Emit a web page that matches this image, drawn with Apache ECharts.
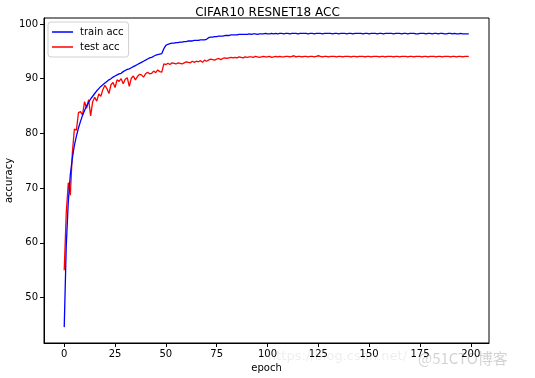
<!DOCTYPE html>
<html>
<head>
<meta charset="utf-8">
<script src="https://cdn.jsdelivr.net/npm/echarts@6/dist/echarts.min.js"></script>
<style>html,body{margin:0;padding:0;background:#fff}#c{width:535px;height:378px}</style>
</head>
<body>
<div id="c"></div>
<script>
const chartTitle = 'CIFAR10 RESNET18 ACC';
const seriesNames = ['train acc', 'test acc'];
const xTicks = [0, 25, 50, 75, 100, 125, 150, 175, 200];
const yTicks = [50, 60, 70, 80, 90, 100];
const epochs = Array.from({length: 200}, (_, i) => i);

const trainAcc = [
44.6,59.5,67.5,72.5,75.5,77.8,79.5,81.0,82.2,83.3,
84.2,85.0,85.7,86.3,86.8,87.3,87.8,88.2,88.6,88.9,
89.2,89.5,89.8,90.0,90.3,90.5,90.7,90.9,91.0,91.3,
91.5,91.7,91.8,92.0,92.2,92.4,92.6,92.8,93.0,93.2,
93.4,93.6,93.8,93.9,94.1,94.3,94.4,94.5,94.6,95.5,
96.1,96.3,96.4,96.5,96.5,96.6,96.6,96.7,96.7,96.8,
96.8,96.9,96.9,96.9,97.0,97.0,97.0,97.1,97.1,97.1,
97.2,97.5,97.6,97.6,97.7,97.7,97.8,97.8,97.8,97.9,
97.9,97.9,98.0,98.0,98.0,98.0,98.1,98.1,98.1,98.1,
98.1,98.2,98.1,98.2,98.2,98.1,98.2,98.2,98.2,98.3,
98.2,98.2,98.3,98.2,98.3,98.2,98.3,98.3,98.2,98.3,
98.3,98.2,98.3,98.3,98.3,98.2,98.3,98.3,98.3,98.3,
98.2,98.3,98.3,98.2,98.3,98.3,98.3,98.2,98.3,98.3,
98.3,98.3,98.2,98.3,98.3,98.2,98.3,98.3,98.3,98.2,
98.3,98.3,98.2,98.3,98.3,98.3,98.3,98.2,98.3,98.3,
98.2,98.3,98.3,98.3,98.2,98.3,98.3,98.2,98.3,98.3,
98.3,98.3,98.2,98.3,98.3,98.3,98.2,98.3,98.3,98.2,
98.3,98.3,98.3,98.2,98.2,98.3,98.3,98.3,98.2,98.3,
98.3,98.2,98.3,98.3,98.2,98.3,98.3,98.2,98.2,98.3,
98.3,98.2,98.3,98.2,98.2,98.3,98.2,98.2,98.2,98.2
];

const testAcc = [
55.0,65.5,71.0,68.7,76.5,80.8,80.6,83.8,84.0,83.4,
85.8,84.6,86.2,83.2,85.8,86.6,85.9,87.2,86.8,88.0,
88.8,88.2,87.3,88.9,89.3,88.4,89.8,89.5,90.0,89.1,
89.9,90.2,88.6,90.1,90.5,89.8,90.4,90.8,90.7,90.3,
90.9,91.2,90.9,91.0,91.4,91.1,91.6,91.3,91.2,92.7,
92.6,92.8,92.6,92.9,92.8,92.7,92.9,92.8,92.7,92.9,
93.1,93.0,92.9,93.2,93.0,93.2,93.1,93.3,93.0,93.4,
93.2,93.4,93.6,93.5,93.4,93.6,93.7,93.5,93.7,93.8,
93.7,93.8,93.9,93.8,93.9,93.8,94.0,93.9,93.8,94.0,
93.9,94.0,94.0,93.9,94.1,94.0,93.9,94.0,94.1,94.0,
94.0,94.1,93.9,94.0,94.1,94.0,94.1,94.0,94.0,94.1,
94.1,94.0,94.1,94.2,94.0,94.1,94.1,94.0,94.1,94.1,
94.0,94.1,94.1,94.0,94.1,94.2,94.1,94.0,94.1,94.1,
94.0,94.1,94.1,94.1,94.0,94.1,94.1,94.0,94.1,94.1,
94.1,94.0,94.1,94.1,94.0,94.1,94.1,94.1,94.0,94.1,
94.1,94.0,94.1,94.1,94.1,94.0,94.1,94.1,94.0,94.1,
94.1,94.1,94.0,94.1,94.1,94.0,94.1,94.1,94.1,94.0,
94.1,94.1,94.0,94.1,94.1,94.1,94.0,94.1,94.1,94.0,
94.1,94.1,94.1,94.0,94.1,94.1,94.0,94.1,94.1,94.1,
94.0,94.1,94.1,94.0,94.1,94.1,94.0,94.1,94.1,94.1
];

const FONT = 'DejaVu Sans';
const chart = echarts.init(document.getElementById('c'), null, {renderer: 'canvas'});
const pairs = arr => epochs.map((e, i) => [e, arr[i]]);

chart.setOption({
  animation: false,
  backgroundColor: '#fff',
  textStyle: {fontFamily: FONT},
  title: {
    text: chartTitle, left: 'center', top: 2,
    textStyle: {fontFamily: FONT, fontSize: 12, fontWeight: 'normal', color: '#000'}
  },
  legend: {
    orient: 'vertical', left: 48, top: 22,
    data: seriesNames,
    icon: 'rect', itemWidth: 21, itemHeight: 1.5, itemGap: 5,
    padding: [5, 5, 5, 4],
    borderColor: '#d0d0d0', borderWidth: 1, borderRadius: 3,
    backgroundColor: 'rgba(255,255,255,0.8)',
    textStyle: {fontFamily: FONT, fontSize: 10, color: '#000', padding: [0, 0, 0, 2]}
  },
  grid: {left: 44, top: 18, right: 46, bottom: 35, outerBoundsMode: 'none', containLabel: false,
         show: true, borderColor: '#000', borderWidth: 1, backgroundColor: '#fff'},
  xAxis: {
    type: 'value', min: -9.95, max: 208.95,
    name: 'epoch', nameLocation: 'middle', nameGap: 20, nameMoveOverlap: false,
    nameTextStyle: {fontFamily: FONT, fontSize: 10, color: '#000'},
    axisLine: {show: true, onZero: false, lineStyle: {color: '#000', width: 1}},
    axisTick: {show: true, inside: false, length: 4, lineStyle: {color: '#000'}, customValues: xTicks},
    axisLabel: {fontFamily: FONT, fontSize: 10, color: '#000', margin: 6, customValues: xTicks},
    splitLine: {show: false}
  },
  yAxis: {
    type: 'value', min: 41.7, max: 101.1,
    name: 'accuracy', nameLocation: 'middle', nameGap: 30, nameMoveOverlap: false,
    nameTextStyle: {fontFamily: FONT, fontSize: 10, color: '#000'},
    axisLine: {show: true, onZero: false, lineStyle: {color: '#000', width: 1}},
    axisTick: {show: true, inside: false, length: 4, lineStyle: {color: '#000'}, customValues: yTicks},
    axisLabel: {fontFamily: FONT, fontSize: 10, color: '#000', margin: 6, customValues: yTicks},
    splitLine: {show: false}
  },
  series: [
    {name: seriesNames[0], type: 'line', data: pairs(trainAcc), showSymbol: false, symbol: 'none',
     lineStyle: {color: '#0000ff', width: 1.3}, itemStyle: {color: '#0000ff'}, z: 3},
    {name: seriesNames[1], type: 'line', data: pairs(testAcc), showSymbol: false, symbol: 'none',
     lineStyle: {color: '#ff0000', width: 1.3}, itemStyle: {color: '#ff0000'}, z: 2}
  ],
  graphic: [
    {type: 'text', left: 268, top: 350, silent: true,
     style: {text: 'https://blog.csdn.net/', fill: 'rgba(0,0,0,0.07)', font: '13px "DejaVu Sans"'}},
    {type: 'text', left: 418, top: 351, silent: true,
     style: {text: '@51CTO博客', fill: 'rgba(0,0,0,0.18)', font: '15px "Noto Sans CJK SC"'}}
  ]
});
</script>
</body>
</html>
